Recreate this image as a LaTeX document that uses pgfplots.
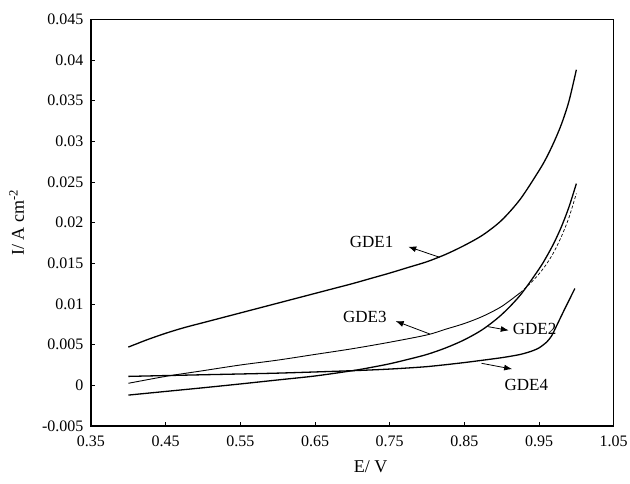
\documentclass[border=0pt]{standalone}
\usepackage{pgfplots}
\pgfplotsset{compat=1.18}
\usepackage{fontspec}
\setmainfont{Liberation Serif}
\usetikzlibrary{arrows.meta}
\begin{document}
\begin{tikzpicture}
\path[use as bounding box] (-91pt,-57pt) rectangle (539pt,426pt);
\begin{axis}[
  scale only axis,
  width=522.7pt, height=406.7pt,
  xmin=0.35, xmax=1.05, ymin=-0.005, ymax=0.045,
  scaled x ticks=false, scaled y ticks=false,
  xtick={0.35,0.45,0.55,0.65,0.75,0.85,0.95,1.05},
  xticklabels={0.35,0.45,0.55,0.65,0.75,0.85,0.95,1.05},
  ytick={-0.005,0,0.005,0.01,0.015,0.02,0.025,0.03,0.035,0.04,0.045},
  yticklabels={-0.005,0,0.005,0.01,0.015,0.02,0.025,0.03,0.035,0.04,0.045},
  tick pos=left, tick align=inside,
  major tick length=4pt,
  axis line style={line width=1.2pt},
  tick style={line width=0.8pt, black},
  ticklabel style={font=\fontsize{16}{19}\selectfont},
  xticklabel style={yshift=-6pt},
  yticklabel style={xshift=-4pt},
  xlabel={E/ V}, ylabel={I/ A cm\textsuperscript{-2}},
  label style={font=\fontsize{18}{21}\selectfont},
  xlabel style={at={(axis description cs:0.535,-0.10)}, anchor=center},
  ylabel style={at={(axis description cs:-0.142,0.5)}, anchor=center},
  clip=false,
]
% GDE1
\addplot[black, line width=1.3pt, smooth, tension=0.5] coordinates {
(0.400,0.0047) (0.425,0.0056) (0.450,0.0064) (0.475,0.0071) (0.500,0.0077)
(0.525,0.0083) (0.550,0.0089) (0.575,0.0095) (0.600,0.0101) (0.625,0.0107)
(0.650,0.0113) (0.675,0.0119) (0.700,0.0125) (0.725,0.01315) (0.750,0.0138)
(0.775,0.0145) (0.800,0.0152) (0.825,0.0161) (0.850,0.0172) (0.875,0.0185)
(0.900,0.0203) (0.925,0.0229) (0.950,0.0264) (0.960,0.0280) (0.970,0.0299)
(0.980,0.0321) (0.990,0.0349) (1.000,0.0388)};
% GDE2
\addplot[black, line width=1.3pt, smooth, tension=0.5] coordinates {
(0.40,-0.0012) (0.45,-0.00075) (0.50,-0.0003) (0.55,0.00017) (0.60,0.00066)
(0.65,0.00115) (0.70,0.0018) (0.725,0.0022) (0.75,0.00265) (0.775,0.0032)
(0.80,0.0038) (0.825,0.0046) (0.85,0.0056) (0.875,0.0069) (0.90,0.0087)
(0.925,0.0111) (0.95,0.0143) (0.96,0.0158) (0.97,0.0175) (0.98,0.0195)
(0.99,0.0219) (1.00,0.0248)};
% GDE3 (solid part)
\addplot[black, line width=0.9pt, smooth, tension=0.5] coordinates {
(0.40,0.00025) (0.45,0.0011) (0.50,0.0018) (0.55,0.0025) (0.60,0.0031)
(0.65,0.0038) (0.70,0.0045) (0.75,0.0053) (0.80,0.0062) (0.825,0.0069)
(0.85,0.0076) (0.875,0.0085) (0.90,0.0097) (0.925,0.0114)};
% GDE3 (dashed part)
\addplot[black, line width=0.7pt, densely dashed, smooth, tension=0.5] coordinates {
(0.925,0.0114) (0.94,0.0127) (0.95,0.0137) (0.96,0.0149) (0.97,0.0164)
(0.98,0.0183) (0.99,0.0206) (1.00,0.0236)};
% GDE4
\addplot[black, line width=1.3pt, smooth, tension=0.4] coordinates {
(0.40,0.0011) (0.50,0.0013) (0.60,0.0015) (0.70,0.0018) (0.75,0.0020)
(0.80,0.0023) (0.85,0.0028) (0.90,0.0034) (0.925,0.0038) (0.94,0.0042)
(0.95,0.0046) (0.96,0.0053) (0.967,0.0061) (0.975,0.0076) (0.985,0.0095)
(0.998,0.0119)};
% annotations
\begin{scope}[font=\fontsize{17}{20}\selectfont]
\node at (axis cs:0.7258,0.01758) {GDE1};
\draw[-{Latex[length=8pt,width=6pt]}, line width=0.8pt] (axis cs:0.817,0.01574) -- (axis cs:0.7748,0.01705);
\node at (axis cs:0.7168,0.00844) {GDE3};
\draw[-{Latex[length=8pt,width=6pt]}, line width=0.8pt] (axis cs:0.8038,0.00631) -- (axis cs:0.7580,0.00790);
\node at (axis cs:0.944,0.00689) {GDE2};
\draw[-{Latex[length=8pt,width=6pt]}, line width=0.8pt] (axis cs:0.8819,0.00721) -- (axis cs:0.9095,0.00675);
\node at (axis cs:0.933,0.00004) {GDE4};
\draw[-{Latex[length=8pt,width=6pt]}, line width=0.8pt] (axis cs:0.873,0.00271) -- (axis cs:0.914,0.0020);
\end{scope}
\end{axis}
\end{tikzpicture}
\end{document}
